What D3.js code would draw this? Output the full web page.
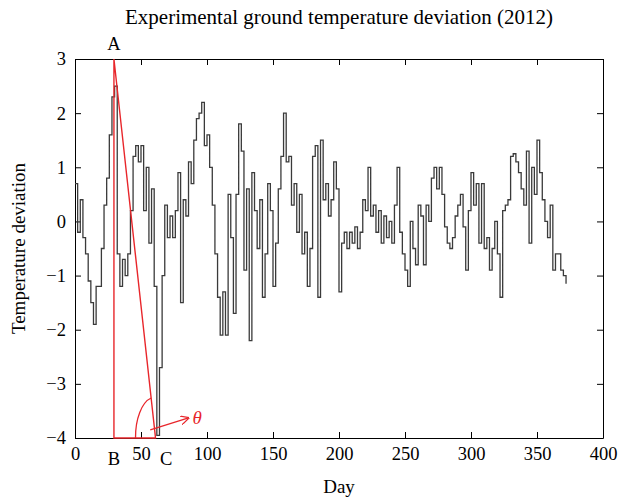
<!DOCTYPE html>
<html>
<head>
<meta charset="utf-8">
<script src="https://cdn.jsdelivr.net/npm/d3@7"></script>
<style>
  body { margin: 0; background: #fff; }
  text { font-family: "Liberation Serif", "DejaVu Serif", serif; }
</style>
</head>
<body>
<div id="chart"></div>
<script>
// deviation, one value every 2 days starting at day 0
const dayStep = 2;
const deviation = [
  0.7, -0.2, 0.4, -0.3, -0.6, -1.1, -1.5, -1.9, -1.2, -1.2,
  -0.5, 0.3, 0.8, 1.6, 2.3, 2.5, -0.6, -1.2, -0.7, -1.0,
  -0.6, 0.2, 1.2, 1.4, 1.1, 1.4, 0.2, 1.0, -0.4, 0.6,
  -1.2, -3.95, -2.7, -1.0, 0.3, -0.3, 0.1, -0.3, 0.2, 0.9,
  -1.5, 0.4, 0.1, 1.1, 0.7, 1.5, 1.9, 2.0, 2.2, 1.4,
  1.6, 1.0, 0.3, -0.6, -1.4, -2.1, -1.3, -2.1, 0.5, -0.3,
  -1.7, 0.5, 1.8, 1.3, -0.9, 0.6, -2.2, 0.9, 0.2, -0.5,
  0.4, -1.4, -0.6, 0.7, 0.2, -1.2, -0.4, 0.6, 1.2, 2.0,
  1.1, 1.2, 0.3, 0.7, -0.2, 0.5, -0.6, -0.2, -1.2, -0.5,
  1.2, 1.4, -1.4, 1.5, 0.4, 0.7, 0.1, 0.4, 1.1, 0.6,
  -1.3, -0.4, -0.2, -0.5, -0.2, -0.4, -0.1, -0.5, -0.2, 0.4,
  0.2, 1.0, 0.1, 0.3, -0.2, 0.2, -0.4, 0.1, -0.3, 0.0,
  -0.4, 0.3, 1.0, -0.2, -0.6, -0.9, -1.2, 0.0, -0.5, -0.8,
  0.3, 0.1, -0.8, 0.3, 0.0, 0.8, 1.0, 0.6, 1.0, 0.5,
  -0.1, -0.4, -0.5, -0.3, 0.1, 0.3, 0.5, -0.1, -0.9, 0.2,
  0.9, 0.3, 0.7, -0.4, 0.7, -0.5, -0.3, -0.9, -0.5, 0.0,
  -0.6, -1.4, 0.2, 0.3, 0.4, 1.2, 1.25, 1.1, 0.9, 0.6,
  0.3, 1.3, -0.4, 1.0, 0.5, 1.5, 0.9, 0.4, 0.0, -0.3,
  0.3, -0.9, -0.6, -0.6, -0.9, -1.0, -1.15
];

const xTicks = [0, 50, 100, 150, 200, 250, 300, 350, 400];
const yTicks = [-4, -3, -2, -1, 0, 1, 2, 3];

// triangle A-B-C and its labels (day, deviation)
const pointA = [29.5, 3];
const pointB = [29.5, -4];
const pointC = [61, -4];
const cLabelDay = 69;
const arrowFrom = [57, -3.85];
const arrowTo = [86, -3.63];

const margin = { left: 75, right: 31, top: 59, bottom: 62 },
  width = 634 - margin.left - margin.right,
  height = 500 - margin.top - margin.bottom;

const svg = d3
  .select("#chart")
  .append("svg")
  .attr("width", width + margin.left + margin.right)
  .attr("height", height + margin.top + margin.bottom);

const g = svg.append("g").attr("transform", "translate(" + margin.left + "," + margin.top + ")");

const x = d3.scaleLinear().domain([0, 400]).range([0, width]);
const y = d3.scaleLinear().domain([-4, 3]).range([height, 0]);

// title
svg.append("text")
  .attr("x", margin.left + width / 2)
  .attr("y", 24)
  .attr("text-anchor", "middle")
  .style("font-size", "21px")
  .text("Experimental ground temperature deviation (2012)");

// axes, ticks pointing inward on all four sides
const styleAxis = sel => {
  sel.style("font-size", "18.5px").style("font-family", "Liberation Serif, serif");
  sel.selectAll("path, line").attr("stroke", "#000");
  sel.selectAll("text").attr("fill", "#000");
};

g.append("g")
  .attr("transform", "translate(0," + height + ")")
  .call(d3.axisBottom(x).tickValues(xTicks).tickSize(-6).tickSizeOuter(0).tickPadding(9))
  .call(styleAxis);

g.append("g")
  .call(d3.axisLeft(y).tickValues(yTicks).tickFormat(d3.format("d")).tickSize(-6).tickSizeOuter(0).tickPadding(9))
  .call(styleAxis);

g.append("g")
  .call(d3.axisTop(x).tickValues(xTicks).tickSize(-6).tickSizeOuter(0).tickFormat(""))
  .call(styleAxis);

g.append("g")
  .attr("transform", "translate(" + width + ",0)")
  .call(d3.axisRight(y).tickValues(yTicks).tickSize(-6).tickSizeOuter(0).tickFormat(""))
  .call(styleAxis);

// axis titles
svg.append("text")
  .attr("x", margin.left + width / 2)
  .attr("y", 493)
  .attr("text-anchor", "middle")
  .style("font-size", "19px")
  .text("Day");

svg.append("text")
  .attr("transform", "translate(25," + (margin.top + height / 2) + ") rotate(-90)")
  .attr("text-anchor", "middle")
  .style("font-size", "19px")
  .text("Temperature deviation");

// temperature line
const line = d3.line()
  .x((d, i) => x(i * dayStep))
  .y(d => y(d))
  .curve(d3.curveStepAfter);

g.append("path")
  .datum(deviation)
  .attr("fill", "none")
  .attr("stroke", "#3a3a3a")
  .attr("stroke-width", 1.3)
  .attr("d", line);

// red triangle annotation
const red = "#e8262b";
g.append("path")
  .attr("fill", "none")
  .attr("stroke", red)
  .attr("stroke-width", 1.4)
  .attr("d", d3.line()([pointA, pointB, pointC, pointA].map(p => [x(p[0]), y(p[1])])));

// angle arc at C
const cx = x(pointC[0]), cy = y(pointC[1]);
const hyp = [x(pointA[0]) - cx, y(pointA[1]) - cy];
const arcEndY = cy - 40;
const arcEndX = cx + hyp[0] * (40 / -hyp[1]);
g.append("path")
  .attr("fill", "none")
  .attr("stroke", red)
  .attr("stroke-width", 1.3)
  .attr("d", "M" + (cx - 20) + "," + cy + " A20,40 0 0 1 " + arcEndX + "," + arcEndY);

// arrow to theta
svg.append("defs").append("marker")
  .attr("id", "arrow")
  .attr("viewBox", "0 0 10 10")
  .attr("refX", 9).attr("refY", 5)
  .attr("markerWidth", 9).attr("markerHeight", 9)
  .attr("markerUnits", "userSpaceOnUse")
  .attr("orient", "auto")
  .append("path")
  .attr("d", "M0,0 L10,5 L0,10")
  .attr("fill", "none")
  .attr("stroke", red)
  .attr("stroke-width", 1.4);

g.append("line")
  .attr("x1", x(arrowFrom[0])).attr("y1", y(arrowFrom[1]))
  .attr("x2", x(arrowTo[0])).attr("y2", y(arrowTo[1]))
  .attr("stroke", red)
  .attr("stroke-width", 1.3)
  .attr("marker-end", "url(#arrow)");

g.append("text")
  .attr("x", x(arrowTo[0]) + 4)
  .attr("y", y(arrowTo[1]) + 6)
  .attr("fill", red)
  .style("font-size", "19px")
  .style("font-style", "italic")
  .text("θ");

// point labels
g.append("text")
  .attr("x", x(pointA[0]))
  .attr("y", y(pointA[1]) - 9)
  .attr("text-anchor", "middle")
  .style("font-size", "18.5px")
  .text("A");

g.append("text")
  .attr("x", x(pointB[0]))
  .attr("y", height + 27)
  .attr("text-anchor", "middle")
  .style("font-size", "18.5px")
  .text("B");

g.append("text")
  .attr("x", x(cLabelDay))
  .attr("y", height + 27)
  .attr("text-anchor", "middle")
  .style("font-size", "18.5px")
  .text("C");
</script>
</body>
</html>
